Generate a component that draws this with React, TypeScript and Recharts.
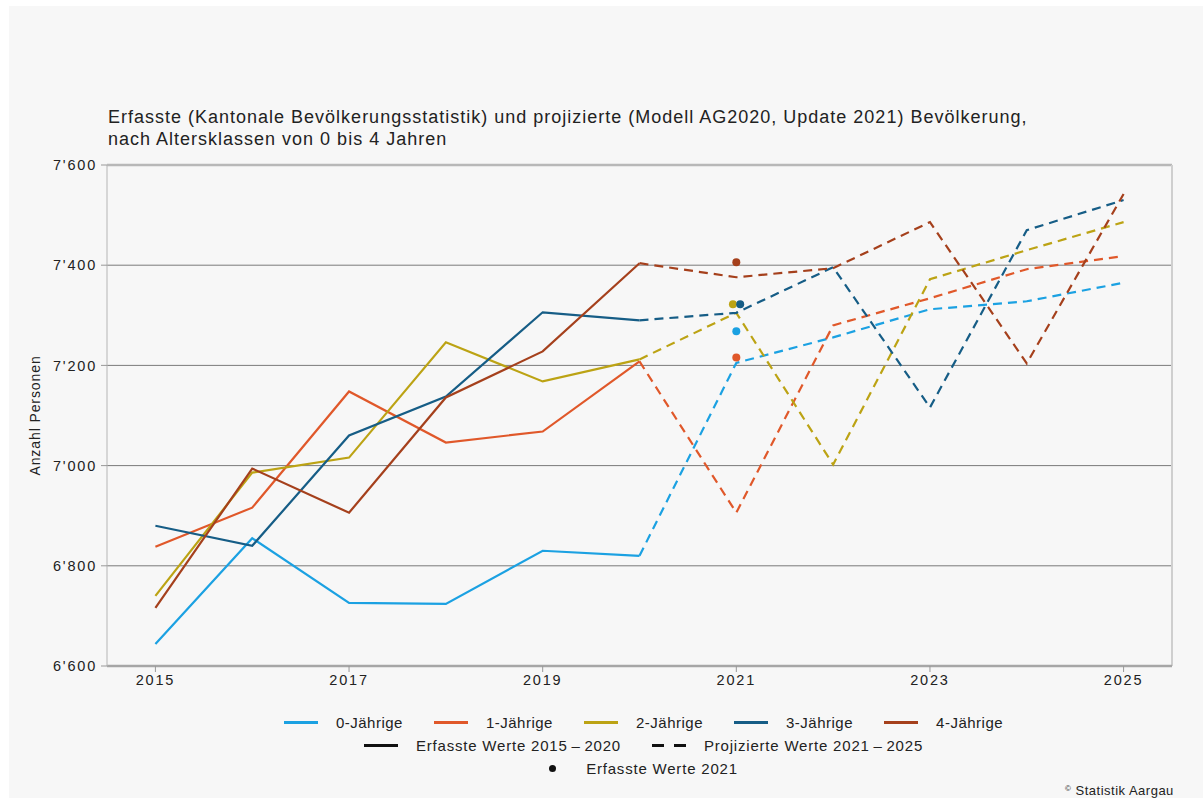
import React from "react";
import {
  ComposedChart,
  Line,
  XAxis,
  YAxis,
  ReferenceLine,
} from "recharts";

const years = [2015, 2016, 2017, 2018, 2019, 2020, 2021, 2022, 2023, 2024, 2025];
const ages = ["0-Jährige", "1-Jährige", "2-Jährige", "3-Jährige", "4-Jährige"];
const colors = ["#1ba1e2", "#e0582a", "#bca314", "#165d86", "#a5401c"];

const age0 = [6644, 6855, 6726, 6724, 6830, 6820, 7205, 7256, 7312, 7328, 7365];
const age1 = [6838, 6916, 7148, 7046, 7068, 7208, 6906, 7280, 7334, 7392, 7418];
const age2 = [6740, 6986, 7016, 7246, 7168, 7212, 7305, 7002, 7372, 7430, 7486];
const age3 = [6880, 6840, 7060, 7138, 7306, 7290, 7305, 7396, 7116, 7470, 7530];
const age4 = [6716, 6994, 6906, 7136, 7228, 7404, 7376, 7394, 7486, 7204, 7542];
const series = [age0, age1, age2, age3, age4];

// erfasste Werte 2021 (Punkte), leicht versetzt wie im Original
const recorded2021 = [7268, 7216, 7322, 7322, 7406];
const recordedYear = [2021, 2021, 2020.965, 2021.04, 2021];

const lastRecorded = 2020;
const yTicks = [6600, 6800, 7000, 7200, 7400, 7600];
const gridValues = [6800, 7000, 7200, 7400];
const xTicks = [2015, 2017, 2019, 2021, 2023, 2025];

const data = years.map((year, i) => {
  const row: Record<string, number | null> = { year };
  series.forEach((s, k) => {
    row[`e${k}`] = year <= lastRecorded ? s[i] : null;
    row[`p${k}`] = year >= lastRecorded ? s[i] : null;
  });
  return row;
});

const fmt = (v: number) => {
  const s = String(v);
  return s.slice(0, 1) + "'" + s.slice(1);
};

const font = '"Liberation Sans", Arial, sans-serif';

function LegendLine({ color, dashed }: { color: string; dashed?: boolean }) {
  if (dashed) {
    return (
      <span style={{ display: "inline-flex", width: 34, marginRight: 18, justifyContent: "space-between" }}>
        <span style={{ width: 12, height: 3, background: color }} />
        <span style={{ width: 12, height: 3, background: color }} />
      </span>
    );
  }
  return <span style={{ display: "inline-block", width: 34, height: 3, background: color, marginRight: 18 }} />;
}

function Item({ children, last }: { children: React.ReactNode; last?: boolean }) {
  return (
    <span style={{ display: "inline-flex", alignItems: "center", marginRight: last ? 0 : 31 }}>
      {children}
    </span>
  );
}

export default function App() {
  const rowStyle: React.CSSProperties = {
    position: "absolute",
    left: 98,
    width: 1073,
    display: "flex",
    justifyContent: "center",
    alignItems: "center",
    fontSize: 15,
    letterSpacing: 0.5,
    color: "#222",
    height: 20,
  };
  return (
    <div
      style={{
        position: "absolute",
        left: 9,
        top: 6,
        width: 1194,
        height: 800,
        background: "#f7f7f7",
        fontFamily: font,
        overflow: "hidden",
      }}
    >
      <div
        style={{
          position: "absolute",
          left: 99,
          top: 100,
          fontSize: 18,
          letterSpacing: 1,
          lineHeight: "22px",
          color: "#222",
        }}
      >
        Erfasste (Kantonale Bevölkerungsstatistik) und projizierte (Modell AG2020, Update 2021) Bevölkerung,
        <br />
        nach Altersklassen von 0 bis 4 Jahren
      </div>

      <div style={{ position: "absolute", left: 0, top: 144 }}>
        <ComposedChart width={1194} height={560} data={data} margin={{ top: 15, right: 31, bottom: 14, left: 0 }}>
          {gridValues.map((v) => (
            <ReferenceLine key={v} y={v} stroke="#7a7a7a" strokeWidth={1} />
          ))}
          <ReferenceLine y={7600} stroke="#b8b8b8" strokeWidth={2.5} />
          <ReferenceLine x={2025.5} stroke="#cfcfcf" strokeWidth={2} />
          <XAxis
            dataKey="year"
            type="number"
            domain={[2014.5, 2025.5]}
            ticks={xTicks}
            interval={0}
            height={30}
            axisLine={{ stroke: "#a6a6a6", strokeWidth: 2.5 }}
            tickLine={{ stroke: "#999" }}
            tickSize={6}
            tickMargin={3}
            tick={{ fontSize: 14.5, fill: "#222", letterSpacing: 1.8, fontFamily: font }}
          />
          <YAxis
            type="number"
            domain={[6600, 7600]}
            ticks={yTicks}
            interval={0}
            width={98}
            axisLine={{ stroke: "#b5b5b5" }}
            tickLine={{ stroke: "#999" }}
            tickSize={6}
            tickMargin={4}
            tickFormatter={fmt}
            tick={{ fontSize: 14.5, fill: "#222", letterSpacing: 1.8, fontFamily: font }}
            label={{
              value: "Anzahl Personen",
              angle: -90,
              position: "insideLeft",
              offset: 26,
              style: { fontSize: 14, fill: "#222", textAnchor: "middle", fontFamily: font, letterSpacing: 0.9 },
            }}
          />
          {ages.map((a, k) => (
            <Line
              key={`e${k}`}
              dataKey={`e${k}`}
              name={a}
              stroke={colors[k]}
              strokeWidth={2.2}
              dot={false}
              activeDot={false}
              isAnimationActive={false}
            />
          ))}
          {ages.map((a, k) => (
            <Line
              key={`p${k}`}
              dataKey={`p${k}`}
              name={a}
              stroke={colors[k]}
              strokeWidth={2.2}
              strokeDasharray="9 6"
              dot={false}
              activeDot={false}
              isAnimationActive={false}
            />
          ))}
          {ages.map((a, k) => (
            <Line
              key={`m${k}`}
              data={[{ year: recordedYear[k], v: recorded2021[k] }]}
              dataKey="v"
              name={a}
              stroke="none"
              dot={{ r: 4, fill: colors[k], stroke: "none" }}
              activeDot={false}
              isAnimationActive={false}
            />
          ))}
        </ComposedChart>
      </div>

      <div style={{ ...rowStyle, top: 706 }}>
        {ages.map((a, k) => (
          <Item key={a} last={k === ages.length - 1}>
            <LegendLine color={colors[k]} />
            {a}
          </Item>
        ))}
      </div>
      <div style={{ ...rowStyle, top: 729, letterSpacing: 0.8 }}>
        <Item>
          <LegendLine color="#111" />
          Erfasste Werte 2015{"\u2009–\u2009"}2020
        </Item>
        <Item last>
          <LegendLine color="#111" dashed />
          Projizierte Werte 2021{"\u2009–\u2009"}2025
        </Item>
      </div>
      <div style={{ ...rowStyle, top: 752, letterSpacing: 0.8 }}>
        <Item last>
          <span
            style={{ display: "inline-block", width: 7, height: 7, borderRadius: 4, background: "#111", marginRight: 30 }}
          />
          Erfasste Werte 2021
        </Item>
      </div>
      <div
        style={{
          position: "absolute",
          left: 1056,
          top: 775,
          fontSize: 13,
          lineHeight: "15px",
          color: "#222",
          letterSpacing: 0.5,
        }}
      >
        <span style={{ fontSize: 8, verticalAlign: "4px" }}>©</span> Statistik Aargau
      </div>
    </div>
  );
}
